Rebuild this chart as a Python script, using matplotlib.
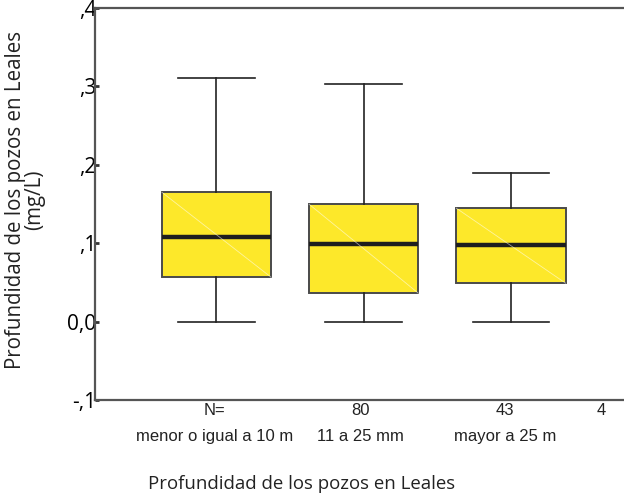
import numpy as np
import matplotlib
matplotlib.use('Agg')
from matplotlib import pyplot as plt

plt.rcParams['font.family'] = ['Liberation Sans', 'DejaVu Sans']

# Box statistics (mg/L)
categories = ['menor o igual a 10 m', '11 a 25 mm', 'mayor a 25 m']
n_labels = ['N=', '80', '43', '4']
q1 = [0.0566, 0.0362, 0.0490]
med = [0.1077, 0.0987, 0.0974]
q3 = [0.1650, 0.1497, 0.1446]
whislo = [0.0, 0.0, 0.0]
whishi = [0.3105, 0.3028, 0.1893]

yticks = [-0.1, 0.0, 0.1, 0.2, 0.3, 0.4]
ytick_labels = ['-,1', '0,0', ',1', ',2', ',3', ',4']

positions = [1, 2, 3]
label_x = [0.986, 1.98, 2.96, 3.61]

fig = plt.figure(figsize=(6.24, 4.94), dpi=100)
ax = fig.add_axes([95 / 624, 94 / 494, 1 - 95 / 624 + 0.01, 392 / 494])

stats = []
for i in range(len(categories)):
    stats.append({'med': med[i], 'q1': q1[i], 'q3': q3[i],
                  'whislo': whislo[i], 'whishi': whishi[i], 'fliers': []})

bw = 0.742
bp = ax.bxp(stats, positions=positions, widths=bw, capwidths=0.52,
            patch_artist=True, showfliers=False,
            boxprops=dict(facecolor='#fde82a', edgecolor='#4a4a4a', linewidth=1.4),
            medianprops=dict(color='#1e1e1e', linewidth=3.2),
            whiskerprops=dict(color='#222222', linewidth=1.2),
            capprops=dict(color='#222222', linewidth=1.2))

# faint diagonal sheen inside each box
for i, p in enumerate(positions):
    ax.plot([p - bw / 2, p + bw / 2], [q3[i], q1[i]], color='white',
            linewidth=0.6, alpha=0.55, zorder=3)

ax.set_xlim(0.175, 3.81)
ax.set_ylim(-0.1, 0.4)
ax.set_yticks(yticks)
ax.set_yticklabels(ytick_labels, fontsize=15, family=['Open Sans', 'DejaVu Sans'])
ax.tick_params(axis='y', direction='in', length=3, width=2, color='#333333', pad=-1)
ax.set_xticks([])

for side in ['left', 'top', 'bottom']:
    ax.spines[side].set_color('#555555')
    ax.spines[side].set_linewidth(1.6)
ax.spines['right'].set_visible(False)

# N counts and group names below the axis
px = 0.1 / 78.4
for x, t in zip(label_x, n_labels):
    ax.text(x, -0.1 - 3 * px, t, ha='center', va='top', fontsize=12,
            color='#222222')
for x, t in zip(label_x[:3], categories):
    ax.text(x, -0.1 - 29 * px, t, ha='center', va='top', fontsize=12,
            color='#222222')

fig.text(302 / 624, 1 - 484 / 494, 'Profundidad de los pozos en Leales',
         ha='center', va='center', fontsize=13.4, color='#222222',
         family=['Open Sans', 'DejaVu Sans'])
fig.text(25 / 624, 1 - 200 / 494, 'Profundidad de los pozos en Leales\n(mg/L)',
         ha='center', va='center', rotation=90, fontsize=14.8,
         linespacing=0.85, color='#222222', family=['Open Sans', 'DejaVu Sans'])

fig.savefig('out.png', dpi=100)
